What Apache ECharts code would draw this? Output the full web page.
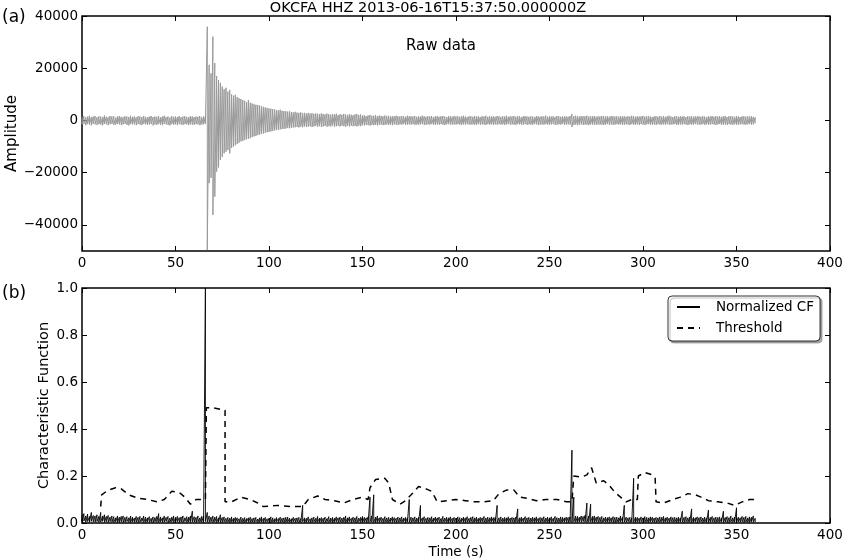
<!DOCTYPE html>
<html>
<head>
<meta charset="utf-8">
<script src="https://cdn.jsdelivr.net/npm/echarts@6/dist/echarts.min.js"></script>
<style>html,body{margin:0;padding:0;background:#fff;}#c{width:844px;height:560px;}</style>
</head>
<body>
<div id="c"></div>
<script>
// ---- data (one upper / lower extreme per second of record) ----
const sampleInterval = 1; // seconds
const rawUpper = [
1400,1700,1200,1500,1800,1300,1500,1700,1200,1600,
1500,1300,1900,1400,1200,1700,1500,1600,1100,1500,
1700,1400,1200,1600,1500,1300,1800,1400,1500,1200,
1600,1500,1300,1700,1400,1200,1500,1700,1300,1500,
1400,1600,1200,1500,1800,1300,1500,1100,1700,1400,
1500,1300,1700,1200,1500,1600,1400,1200,1700,1500,
1300,1500,1400,1700,1200,1500,1600,35900,21300,18000,
32100,22000,17000,15500,14400,13000,12000,12500,11000,11700,
10000,9500,9800,9000,8500,8200,7800,7500,7000,7800,
6800,6500,6200,6000,5900,5700,5400,5200,5000,4800,
4600,4500,4300,4200,4000,3900,4100,3700,3600,3500,
3400,3500,3200,3100,3300,3000,2900,3100,2800,2900,
2700,2900,2600,2800,2500,2700,2600,2400,2700,2500,
2300,2600,2400,2200,2500,2300,2600,2100,2400,2200,
2500,2300,2100,2400,2200,2000,2300,2500,2100,2300,
1900,2000,1700,1900,2100,1800,1800,2000,1700,1900,
1700,1600,1900,1600,1800,1500,1700,1600,1800,1600,
1500,1700,1600,1400,1800,1600,1600,1500,1700,1400,
1600,1500,1800,1600,1400,1600,1500,1700,1300,1600,
1600,1400,1600,1700,1500,1300,1600,1600,1400,1700,
1500,1600,1400,1600,1800,1500,1300,1600,1600,1400,
1700,1500,1600,1300,1600,1500,1800,1400,1600,1500,
1600,1400,1700,1600,1300,1600,1500,1800,1400,1600,
1500,1700,1400,1600,1600,1300,1600,1700,1500,1400,
1600,1500,1300,1700,1600,1400,1600,1500,1800,1400,
1600,1500,1600,1300,1700,1600,1400,1600,1500,1600,
1400,1700,2500,1600,1800,1600,1500,1700,1600,1600,
1800,1500,1600,1600,1700,1400,1600,1500,1700,1600,
1500,1600,1400,1700,1600,1500,1600,1400,1700,1500,
1600,1400,1600,1500,1800,1600,1400,1600,1500,1600,
1700,1400,1600,1600,1500,1300,1600,1600,1400,1700,
1500,1600,1400,1600,1800,1500,1300,1600,1600,1400,
1600,1500,1600,1300,1600,1500,1700,1400,1600,1500,
1600,1400,1600,1500,1300,1600,1500,1700,1400,1600,
1500,1600,1400,1600,1700,1300,1600,1600,1500,1400,
1600,1500,1300,1600,1600,1400,1600,1500,1600,1400,
1200
];
const rawLower = [
-1500,-1300,-1800,-1400,-1600,-1900,-1300,-1500,-1700,-1400,
-1600,-1900,-1300,-1500,-1800,-1400,-1300,-1700,-1600,-1400,
-1500,-1800,-1500,-1300,-1700,-1900,-1400,-1500,-1500,-1800,
-1400,-1600,-1800,-1300,-1500,-1700,-1500,-1400,-1900,-1500,
-1700,-1400,-1600,-1800,-1300,-1500,-1700,-1900,-1400,-1600,
-1500,-1800,-1300,-1600,-1700,-1400,-1500,-1800,-1500,-1600,
-1700,-1400,-1500,-1800,-1600,-1500,-1300,-49600,-24000,-22000,
-36200,-29200,-19600,-18000,-15100,-14000,-12600,-12000,-11300,-12600,
-10500,-10000,-9500,-9000,-8500,-8000,-7800,-7500,-7200,-7000,
-6800,-6400,-6100,-5900,-5600,-5400,-5200,-5000,-4700,-4500,
-4400,-4200,-4000,-3800,-3700,-3600,-3400,-3300,-3200,-3100,
-2900,-3000,-2800,-2700,-2600,-2500,-2700,-2400,-2600,-2300,
-2500,-2400,-2200,-2500,-2300,-2100,-2400,-2200,-2500,-2300,
-2100,-2400,-2200,-2300,-2000,-2400,-2200,-2100,-2300,-2000,
-2200,-2400,-2100,-2300,-2000,-2200,-2100,-2300,-2000,-2200,
-1800,-1900,-1700,-1800,-2000,-1700,-1800,-1700,-1900,-1700,
-1600,-1800,-1700,-1500,-1700,-1600,-1800,-1500,-1600,-1700,
-1500,-1600,-1400,-1700,-1600,-1500,-1600,-1400,-1700,-1600,
-1600,-1500,-1400,-1700,-1600,-1500,-1600,-1400,-1600,-1700,
-1500,-1600,-1400,-1600,-1700,-1500,-1400,-1600,-1600,-1500,
-1600,-1400,-1600,-1700,-1500,-1600,-1400,-1600,-1600,-1500,
-1600,-1700,-1400,-1600,-1500,-1600,-1700,-1400,-1600,-1500,
-1700,-1500,-1600,-1400,-1600,-1500,-1700,-1600,-1400,-1600,
-1500,-1600,-1700,-1400,-1500,-1600,-1600,-1400,-1700,-1500,
-1600,-1600,-1400,-1500,-1700,-1600,-1500,-1600,-1400,-1600,
-1600,-1500,-1400,-1700,-1600,-1500,-1600,-1400,-1600,-1600,
-1500,-1600,-2500,-1700,-1600,-1800,-1600,-1500,-1700,-1600,
-1600,-1800,-1500,-1600,-1600,-1700,-1500,-1600,-1600,-1700,
-1600,-1400,-1600,-1500,-1700,-1600,-1400,-1600,-1500,-1700,
-1600,-1500,-1600,-1700,-1400,-1600,-1600,-1500,-1700,-1400,
-1600,-1700,-1500,-1400,-1600,-1600,-1500,-1700,-1400,-1600,
-1600,-1500,-1700,-1400,-1600,-1600,-1500,-1400,-1700,-1600,
-1500,-1600,-1400,-1600,-1700,-1500,-1600,-1600,-1400,-1500,
-1600,-1600,-1400,-1700,-1500,-1600,-1600,-1400,-1600,-1700,
-1500,-1400,-1600,-1600,-1500,-1700,-1400,-1600,-1600,-1500,
-1600,-1600,-1500,-1400,-1600,-1600,-1500,-1400,-1600,-1500,
-1100
];
const cfPeak = [
.035,.04,.03,.038,.028,.045,.032,.03,.035,.028,
.045,.03,.035,.028,.032,.025,.03,.027,.022,.03,
.025,.028,.03,.024,.027,.022,.03,.025,.021,.028,
.024,.028,.021,.03,.025,.022,.027,.02,.026,.023,
.028,.04,.026,.022,.03,.024,.028,.021,.025,.03,
.024,.028,.023,.026,.03,.022,.027,.025,.03,.05,
.027,.024,.03,.022,.028,.03,1.0,.045,.03,.025,
.03,.025,.028,.022,.035,.024,.026,.02,.024,.021,
.026,.02,.024,.022,.018,.025,.02,.023,.019,.022,
.025,.019,.022,.024,.017,.022,.026,.02,.024,.018,
.02,.026,.022,.018,.023,.019,.025,.02,.022,.024,
.025,.021,.018,.024,.02,.022,.024,.019,.075,.022,
.02,.026,.018,.022,.025,.02,.028,.021,.023,.02,
.025,.019,.027,.021,.024,.02,.026,.022,.025,.021,
.024,.03,.022,.026,.02,.025,.022,.028,.021,.024,
.028,.024,.022,.026,.11,.03,.12,.025,.03,.022,
.025,.02,.027,.022,.024,.021,.026,.023,.02,.025,
.022,.026,.021,.024,.022,.1,.025,.022,.026,.021,
.024,.075,.022,.027,.02,.024,.022,.027,.021,.025,
.022,.025,.019,.028,.021,.024,.022,.026,.02,.024,
.021,.026,.023,.02,.025,.022,.027,.02,.024,.027,
.022,.025,.02,.024,.022,.028,.021,.025,.022,.026,
.023,.024,.075,.022,.026,.021,.024,.022,.026,.021,
.024,.022,.025,.06,.022,.025,.021,.027,.022,.024,
.021,.025,.022,.026,.02,.024,.022,.027,.021,.025,
.022,.026,.02,.028,.023,.021,.026,.024,.022,.025,
.024,.026,.31,.11,.03,.028,.025,.03,.028,.032,
.085,.03,.08,.028,.03,.025,.028,.024,.028,.022,
.025,.023,.026,.022,.027,.024,.025,.022,.03,.024,
.075,.025,.022,.024,.022,.19,.025,.024,.021,.026,
.022,.027,.024,.022,.026,.025,.021,.024,.022,.026,
.024,.028,.022,.025,.021,.026,.023,.024,.022,.025,
.022,.05,.024,.027,.022,.025,.06,.024,.022,.026,
.023,.026,.021,.025,.022,.055,.024,.028,.022,.025,
.024,.026,.022,.05,.024,.027,.023,.03,.022,.025,
.065,.025,.022,.028,.024,.028,.022,.026,.024,.03,
.02
];
const cfTrough = [
.005,.008,.004,.006,.003,.007,.005,.004,.006,.003,
.004,.007,.003,.005,.002,.006,.004,.003,.005,.002,
.003,.005,.002,.004,.006,.003,.002,.005,.003,.004,
.002,.004,.006,.003,.002,.005,.003,.004,.002,.005,
.004,.002,.005,.003,.004,.006,.002,.003,.005,.002,
.003,.005,.002,.004,.003,.006,.002,.004,.003,.005,
.004,.002,.005,.003,.004,.002,.006,.004,.003,.005,
.003,.005,.002,.004,.003,.002,.005,.003,.004,.002,
.004,.002,.003,.005,.002,.004,.003,.002,.005,.003,
.002,.004,.003,.005,.002,.003,.004,.002,.003,.005,
.003,.002,.004,.003,.005,.002,.003,.004,.002,.003,
.004,.003,.002,.005,.003,.004,.002,.003,.005,.002,
.003,.004,.002,.003,.005,.002,.004,.003,.002,.004,
.002,.005,.003,.004,.002,.003,.005,.002,.004,.003,
.004,.002,.003,.005,.002,.004,.003,.002,.005,.003,
.002,.004,.003,.002,.005,.004,.003,.002,.004,.003,
.005,.002,.004,.003,.002,.005,.003,.004,.002,.003,
.004,.003,.005,.002,.004,.003,.002,.005,.003,.004,
.002,.004,.003,.005,.002,.003,.004,.002,.005,.003,
.004,.002,.003,.004,.005,.002,.003,.004,.002,.005,
.003,.004,.002,.005,.003,.002,.004,.003,.005,.002,
.004,.003,.002,.004,.005,.003,.002,.004,.003,.005,
.002,.004,.003,.002,.005,.003,.004,.002,.003,.004,
.005,.002,.004,.003,.002,.004,.005,.003,.002,.004,
.003,.005,.002,.004,.003,.002,.005,.003,.004,.002,
.004,.003,.005,.002,.004,.003,.002,.004,.005,.003,
.002,.004,.003,.005,.004,.003,.005,.004,.006,.004,
.003,.005,.004,.003,.002,.005,.003,.004,.002,.005,
.003,.004,.002,.005,.003,.002,.004,.003,.005,.002,
.004,.003,.005,.002,.004,.003,.002,.004,.003,.005,
.002,.004,.003,.002,.005,.003,.004,.002,.004,.003,
.005,.002,.004,.003,.002,.005,.003,.004,.002,.003,
.004,.003,.002,.005,.003,.004,.002,.003,.005,.002,
.003,.005,.002,.004,.003,.002,.004,.005,.003,.002,
.004,.003,.005,.002,.004,.003,.002,.005,.003,.004,
.002,.004,.003,.005,.002,.004,.003,.002,.005,.003,
.004
];
const thresholdTime = [10,10.5,14,18,21,25,30,35,40,44,48,52,55,58,61,66,66.5,70,76.5,76.5,80,85,90,94,97,105,112,118,121,126,130,135,140,145,150,153,154,157,162,164,166,170,173,176,180,184,187,190,195,200,205,210,215,220,223,227,231,234,238,243,248,254,259,262,263,267,270,272.5,275,279,282,285,288,291,294,297,297.5,301,305,306.5,307,311,316,320,324,328,331,335,340,345,349,353,357,360];
const thresholdValue = [0.07,0.12,0.14,0.15,0.145,0.12,0.105,0.10,0.09,0.10,0.135,0.13,0.11,0.08,0.10,0.10,0.49,0.49,0.48,0.09,0.09,0.11,0.10,0.085,0.07,0.075,0.07,0.07,0.10,0.115,0.10,0.095,0.085,0.10,0.11,0.10,0.15,0.185,0.19,0.17,0.10,0.08,0.095,0.12,0.155,0.145,0.135,0.09,0.095,0.10,0.095,0.09,0.09,0.095,0.125,0.14,0.14,0.11,0.105,0.095,0.10,0.10,0.09,0.09,0.2,0.195,0.205,0.235,0.17,0.18,0.16,0.13,0.11,0.09,0.10,0.10,0.2,0.215,0.205,0.19,0.09,0.085,0.10,0.11,0.125,0.12,0.11,0.095,0.09,0.085,0.075,0.09,0.10,0.10];
const ampTicks = [-40000,-20000,0,20000,40000];
const cfTicks = [0,0.2,0.4,0.6,0.8,1.0];
const figTitle = 'OKCFA HHZ 2013-06-16T15:37:50.000000Z';

// ---- chart ----
const FONT = 'DejaVu Sans';
const chart = echarts.init(document.getElementById('c'), null, {renderer: 'canvas'});
// each second contributes its upper then lower extreme
function envelope(upper, lower) {
  const out = [];
  upper.forEach((u, i) => { out.push([i * sampleInterval, u]); out.push([i * sampleInterval, lower[i]]); });
  return out;
}
const rawData = envelope(rawUpper, rawLower);
const cfData = envelope(cfPeak, cfTrough);
const thrData = thresholdTime.map((t, i) => [t, thresholdValue[i]]);

function xAx(grid, pos, labels, name) {
  return {
    type: 'value', gridIndex: grid, position: pos, min: 0, max: 400, interval: 50,
    axisLine: {show: false, onZero: false},
    axisTick: {show: true, inside: true, length: 5, lineStyle: {color: '#000', width: 1}},
    axisLabel: {show: labels, color: '#000', fontFamily: FONT, fontSize: 13.5, margin: 5},
    splitLine: {show: false},
    name: name || '', nameLocation: 'middle', nameGap: 22, nameMoveOverlap: false,
    nameTextStyle: {color: '#000', fontFamily: FONT, fontSize: 13.5}
  };
}
function yAx(grid, pos, min, max, interval, ticks, labels, fmt, name, nameGap, nameSize) {
  return {
    type: 'value', gridIndex: grid, position: pos, min: min, max: max, interval: interval,
    axisLine: {show: false, onZero: false},
    axisTick: {show: true, inside: true, length: 5, customValues: ticks, lineStyle: {color: '#000', width: 1}},
    axisLabel: {show: labels, customValues: ticks, color: '#000', fontFamily: FONT, fontSize: 13.5, margin: 4, formatter: fmt},
    splitLine: {show: false},
    name: name || '', nameLocation: 'middle', nameGap: nameGap || 0, nameRotate: 90, nameMoveOverlap: false,
    nameTextStyle: {color: '#000', fontFamily: FONT, fontSize: nameSize || 13.5}
  };
}
const ampFmt = v => String(v).replace('-', '\u2212');
const cfFmt = v => v.toFixed(1);

chart.setOption({
  animation: false,
  backgroundColor: '#fff',
  grid: [
    {left: 82, top: 16, width: 748, height: 235, show: true, borderColor: '#000', borderWidth: 1.5, backgroundColor: 'transparent', outerBoundsMode: 'none', containLabel: false},
    {left: 82, top: 288, width: 748, height: 235, show: true, borderColor: '#000', borderWidth: 1.5, backgroundColor: 'transparent', outerBoundsMode: 'none', containLabel: false}
  ],
  xAxis: [
    xAx(0, 'bottom', true),
    xAx(0, 'top', false),
    xAx(1, 'bottom', true, 'Time (s)'),
    xAx(1, 'top', false)
  ],
  yAxis: [
    yAx(0, 'left', -50000, 40000, 10000, ampTicks, true, ampFmt, 'Amplitude', 62, 15),
    yAx(0, 'right', -50000, 40000, 10000, ampTicks, false, ampFmt),
    yAx(1, 'left', 0, 1, 0.2, cfTicks, true, cfFmt, 'Characteristic Function', 30, 14.5),
    yAx(1, 'right', 0, 1, 0.2, cfTicks, false, cfFmt)
  ],
  legend: {
    show: true,
    data: ['Normalized CF', 'Threshold'],
    orient: 'vertical',
    left: 668, top: 296,
    padding: [4, 6, 6, 8],
    itemGap: 7,
    itemWidth: 23, itemHeight: 14,
    itemStyle: {opacity: 0},
    backgroundColor: '#fff',
    borderColor: '#000', borderWidth: 0.8, borderRadius: 4,
    shadowColor: 'rgba(0,0,0,0.35)', shadowOffsetX: 2, shadowOffsetY: 2, shadowBlur: 1,
    textStyle: {color: '#000', fontFamily: FONT, fontSize: 13.5, lineHeight: 14, padding: [0, 0, 0, 11]}
  },
  series: [
    {
      name: 'Raw data', type: 'line', xAxisIndex: 0, yAxisIndex: 0, data: rawData,
      symbol: 'none', lineStyle: {color: '#999999', width: 1}, itemStyle: {color: '#999999'}, silent: true
    },
    {
      name: 'Normalized CF', type: 'line', xAxisIndex: 2, yAxisIndex: 2, data: cfData,
      symbol: 'none', lineStyle: {color: '#000', width: 0.9}, itemStyle: {color: '#000'}, silent: true
    },
    {
      name: 'Threshold', type: 'line', xAxisIndex: 2, yAxisIndex: 2, data: thrData,
      symbol: 'none', lineStyle: {color: '#000', width: 1.5, type: [6, 5]}, itemStyle: {color: '#000'}, silent: true
    }
  ],
  graphic: [
    {type: 'text', x: 428, y: 8, style: {text: figTitle, font: '14.5px "' + FONT + '"', fill: '#000', textAlign: 'center', textVerticalAlign: 'middle'}},
    {type: 'text', x: 2, y: 18, style: {text: '(a)', font: '17px "' + FONT + '"', fill: '#000', textVerticalAlign: 'middle'}},
    {type: 'text', x: 2, y: 294, style: {text: '(b)', font: '17px "' + FONT + '"', fill: '#000', textVerticalAlign: 'middle'}},
    {type: 'text', x: 441, y: 46, style: {text: 'Raw data', font: '15px "' + FONT + '"', fill: '#000', textAlign: 'center', textVerticalAlign: 'middle'}}
  ]
});
</script>
</body>
</html>
